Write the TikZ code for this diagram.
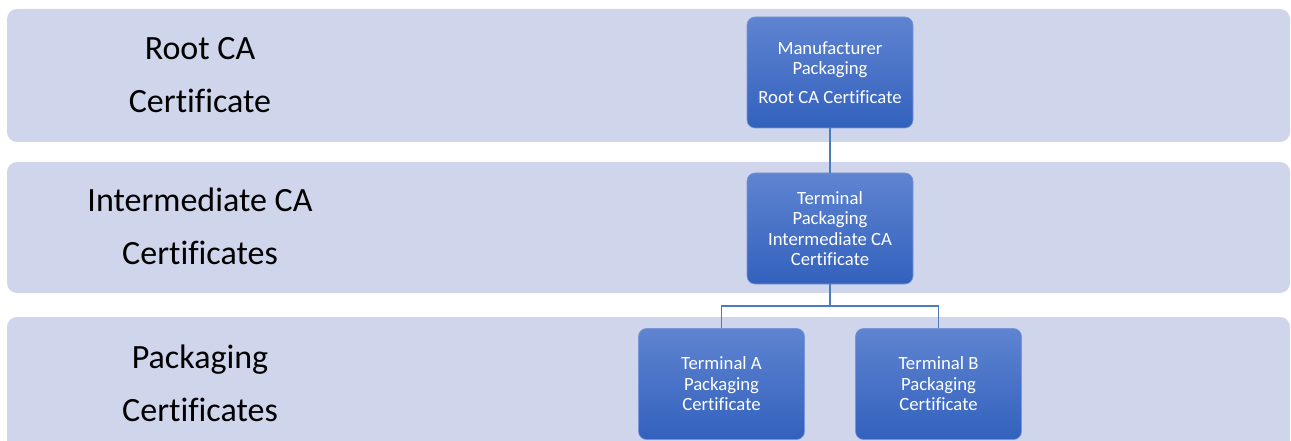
\documentclass[tikz,border=0pt]{standalone}
\usepackage{fontspec}
\setmainfont[Ligatures=NoCommon]{Carlito}
\definecolor{bandfill}{RGB}{207,213,234}
\definecolor{boxtop}{RGB}{95,132,209}
\definecolor{boxbottom}{RGB}{50,97,189}
\definecolor{boxedge}{RGB}{120,150,215}
\definecolor{linkcol}{RGB}{74,124,190}
\tikzset{
  band/.style={fill=bandfill, rounded corners=10pt},
  tierlabel/.style={align=center, inner sep=0pt, text=black,
    font=\fontsize{34}{53}\selectfont},
  certbox/.style={rectangle, rounded corners=8pt, minimum width=166pt,
    minimum height=111pt, inner sep=0pt, top color=boxtop,
    bottom color=boxbottom, draw=boxedge, line width=0.6pt,
    text=white, align=center, font=\fontsize{18.7}{20.5}\selectfont},
  link/.style={draw=linkcol, line width=1.3pt}
}
\begin{document}
\begin{tikzpicture}[x=1pt, y=-1pt]
  \useasboundingbox (0,0) rectangle (1291,441);
  \clip (0,0) rectangle (1291,441);

  % tier bands
  \fill[band] (7,9) rectangle (1290,142);
  \fill[band] (7,162) rectangle (1290,293);
  \fill[band] (7,317) rectangle (1290,452);

  % tier captions
  \node[tierlabel] (lblroot)  at (200,75)  {Root CA\\Certificate};
  \node[tierlabel] (lblinter) at (200,226) {Intermediate CA\\Certificates};
  \node[tierlabel] (lblpack)  at (200,383) {Packaging\\Certificates};

  % certificate boxes
  \node[certbox] (root)  at (830,72.5)
    {Manufacturer\\Packaging\\[8pt]Root CA Certificate};
  \node[certbox] (inter) at (830,228.5)
    {Terminal\\Packaging\\Intermediate CA\\Certificate};
  \node[certbox] (termA) at (721.5,384)
    {Terminal A\\Packaging\\Certificate};
  \node[certbox] (termB) at (938.5,384)
    {Terminal B\\Packaging\\Certificate};

  % hierarchy connectors
  \coordinate (split) at (830,306);
  \draw[link] (root.south) -- (inter.north);
  \draw[link] (inter.south) -- (split);
  \draw[link] (split) -| (termA.north);
  \draw[link] (split) -| (termB.north);
\end{tikzpicture}
\end{document}
